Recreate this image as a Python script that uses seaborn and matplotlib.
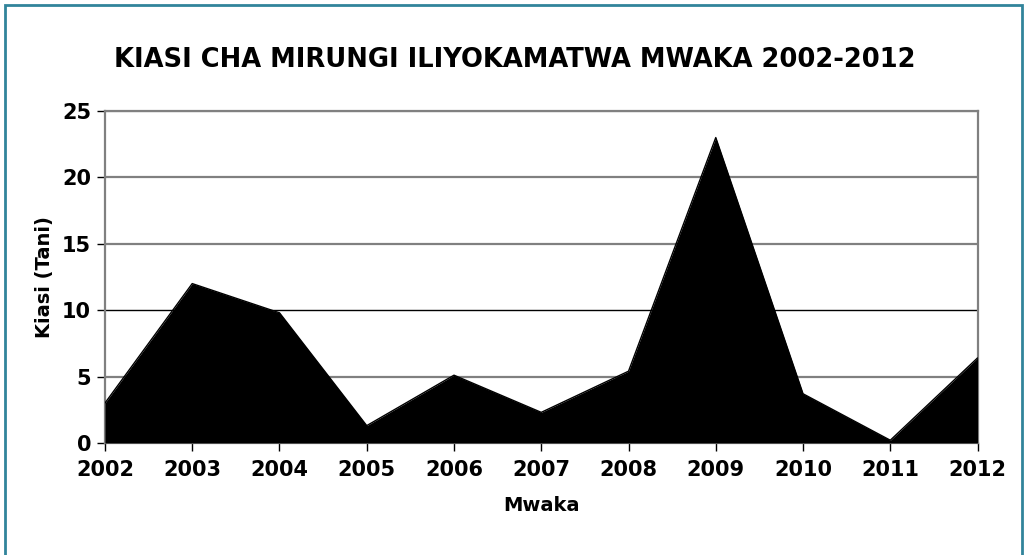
import matplotlib
matplotlib.use("Agg")
import matplotlib.pyplot as plt
import seaborn as sns
import pandas as pd
from matplotlib.patches import Rectangle

# ===============================
# DATA
# ===============================
years = [2002, 2003, 2004, 2005, 2006, 2007, 2008, 2009, 2010, 2011, 2012]
tani = [3.0, 12.0, 9.8, 1.3, 5.1, 2.3, 5.4, 23.0, 3.7, 0.2, 6.4]
y_ticks = [0, 5, 10, 15, 20, 25]

df = pd.DataFrame({"Mwaka": years, "Kiasi": tani})

# ===============================
# PLOT
# ===============================
sns.set_style("white")
plt.rcParams["font.family"] = ["DejaVu Sans"]
plt.rcParams["text.color"] = "black"
plt.rcParams["axes.labelcolor"] = "black"
plt.rcParams["xtick.color"] = "black"
plt.rcParams["ytick.color"] = "black"

fig = plt.figure(figsize=(10.29, 5.55), dpi=100)
ax = fig.add_axes([0.102, 0.202, 0.848, 0.598])

ax.fill_between(df["Mwaka"], df["Kiasi"], 0, color="black", linewidth=0, zorder=3)
sns.lineplot(data=df, x="Mwaka", y="Kiasi", ax=ax, color="black", linewidth=1, zorder=4)

ax.set_xlim(years[0], years[-1])
ax.set_ylim(0, 25)
ax.set_xticks(years)
ax.set_xticklabels([str(y) for y in years], fontsize=15, fontweight="bold")
ax.set_yticks(y_ticks)
ax.set_yticklabels([str(t) for t in y_ticks], fontsize=15, fontweight="bold")

# gridlines
for t in y_ticks[1:]:
    ax.axhline(t, color="black" if t == 10 else "#808080",
               linewidth=1 if t == 10 else 1.6, zorder=1)

for side in ["top", "right", "left", "bottom"]:
    ax.spines[side].set_color("#808080")
    ax.spines[side].set_linewidth(1.6)

ax.tick_params(axis="both", direction="out", length=6, width=1, color="black",
               bottom=True, left=True)
ax.tick_params(axis="x", pad=6)
ax.tick_params(axis="y", pad=4)

ax.set_xlabel("Mwaka", fontsize=14, fontweight="bold", labelpad=12)
ax.set_ylabel("Kiasi (Tani)", fontsize=14, fontweight="bold", labelpad=6)

fig.suptitle("KIASI CHA MIRUNGI ILIYOKAMATWA MWAKA 2002-2012",
             fontsize=18.5, fontweight="bold", y=0.915)

# outer chart border
fig.patches.append(Rectangle((0.005, -0.02), 0.988, 1.011, transform=fig.transFigure,
                             fill=False, edgecolor="#31849B", linewidth=2))

plt.savefig("out.png", dpi=100)
plt.close()
